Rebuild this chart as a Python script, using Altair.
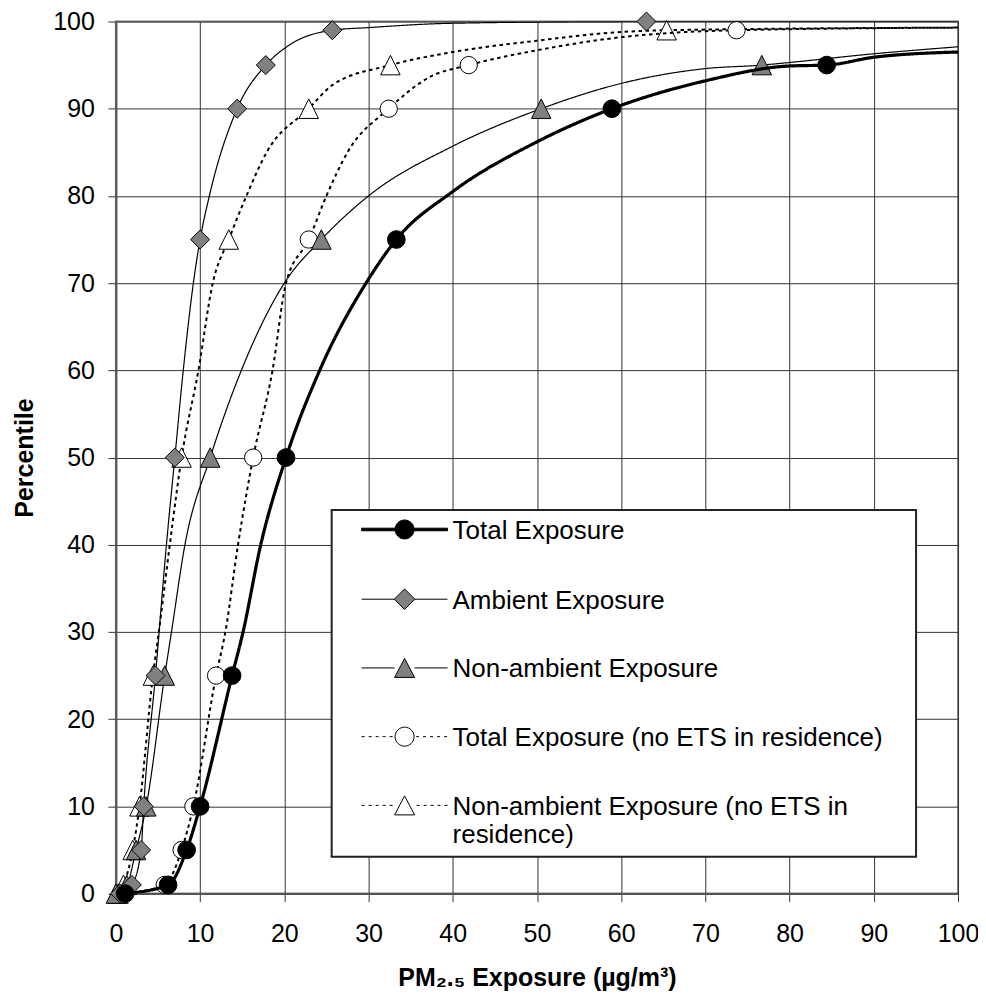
import altair as alt
import pandas as pd

FONT = "Liberation Sans"

SERIES = [
    "Total Exposure",
    "Ambient Exposure",
    "Non-ambient Exposure",
    "Total Exposure (no ETS in residence)",
    "Non-ambient Exposure (no ETS in residence)",
]

x_ticks = [0, 10, 20, 30, 40, 50, 60, 70, 80, 90, 100]
y_ticks = [0, 10, 20, 30, 40, 50, 60, 70, 80, 90, 100]

# ---- marker points (PM2.5 exposure, percentile) ----
total_mx = [1.1, 6.2, 8.4, 10.0, 13.8, 20.2, 33.3, 58.9, 84.4]
total_mp = [0, 1, 5, 10, 25, 50, 75, 90, 95]
amb_mx = [0.5, 1.9, 3.0, 3.3, 4.7, 7.0, 10.0, 14.4, 17.8, 25.7, 63.0]
amb_mp = [0, 1, 5, 10, 25, 50, 75, 90, 95, 99, 100]
nonamb_mx = [0.0, 1.3, 2.4, 3.6, 5.8, 11.2, 24.4, 50.5, 76.7]
nonamb_mp = [0, 1, 5, 10, 25, 50, 75, 90, 95]
totnoets_mx = [0.9, 5.8, 7.8, 9.2, 11.9, 16.3, 22.9, 32.4, 41.9, 73.7]
totnoets_mp = [0, 1, 5, 10, 25, 50, 75, 90, 95, 99]
nonnoets_mx = [0.3, 0.9, 2.0, 2.8, 4.4, 7.8, 13.4, 22.9, 32.6, 65.4]
nonnoets_mp = [0, 1, 5, 10, 25, 50, 75, 90, 95, 99]

# ---- curve vertices ----
total_cx = [1.1, 6.2, 8.4, 10.0, 13.8, 15.1, 17.2, 20.2, 24.2, 29.7, 33.3, 40.0, 50.0, 58.9, 70.0, 80.0, 84.4, 90.0, 100.0]
total_cp = [0, 1, 5, 10, 25, 30, 40, 50, 60, 70, 75, 80.5, 86.2, 90, 93.2, 94.9, 95, 95.9, 96.5]
amb_cx = [0.5, 1.9, 3.0, 3.3, 4.7, 6.0, 7.0, 8.0, 9.2, 10.0, 11.1, 14.4, 17.8, 20.6, 25.7, 30.0, 40.0, 63.0, 100.0]
amb_cp = [0, 1, 5, 10, 25, 40, 50, 60, 70, 75, 80, 90, 95, 97.3, 99, 99.3, 99.8, 100, 100]
nonamb_cx = [0.0, 1.3, 2.4, 3.6, 5.8, 6.6, 8.2, 11.2, 14.9, 20.0, 24.4, 30.0, 40.0, 50.5, 60.0, 70.0, 76.7, 80.0, 90.0, 100.0]
nonamb_cp = [0, 1, 5, 10, 25, 30, 40, 50, 60, 70, 75, 80, 85.7, 90, 92.9, 94.6, 95, 95.3, 96.3, 97.1]
totnoets_cx = [0.9, 5.8, 7.8, 9.2, 11.9, 13.0, 14.5, 16.3, 18.6, 20.2, 22.9, 25.0, 27.5, 32.4, 37.2, 41.9, 50.0, 60.0, 73.7, 100.0]
totnoets_cp = [0, 1, 5, 10, 25, 30, 40, 50, 60, 70, 75, 80, 85, 90, 93.6, 95, 96.7, 98.2, 99, 99.3]
nonnoets_cx = [0.3, 0.9, 2.0, 2.8, 4.4, 5.1, 6.4, 7.8, 9.8, 11.5, 13.4, 15.5, 17.9, 22.9, 25.7, 32.6, 40.0, 50.0, 60.0, 65.4, 100.0]
nonnoets_cp = [0, 1, 5, 10, 25, 30, 40, 50, 60, 70, 75, 80, 85, 90, 92.7, 95, 96.5, 97.8, 98.8, 99, 99.3]

markers = {
    SERIES[0]: (total_mx, total_mp),
    SERIES[1]: (amb_mx, amb_mp),
    SERIES[2]: (nonamb_mx, nonamb_mp),
    SERIES[3]: (totnoets_mx, totnoets_mp),
    SERIES[4]: (nonnoets_mx, nonnoets_mp),
}
curves = {
    SERIES[0]: (total_cx, total_cp),
    SERIES[1]: (amb_cx, amb_cp),
    SERIES[2]: (nonamb_cx, nonamb_cp),
    SERIES[3]: (totnoets_cx, totnoets_cp),
    SERIES[4]: (nonnoets_cx, nonnoets_cp),
}

TRI = "M0,-1L1,1L-1,1Z"
STYLE = {
    SERIES[0]: dict(width=3.2, dash=[1, 0], shape="circle", fill="black", size=314),
    SERIES[1]: dict(width=1.2, dash=[1, 0], shape="diamond", fill="#808080", size=361),
    SERIES[2]: dict(width=1.2, dash=[1, 0], shape=TRI, fill="#808080", size=380),
    SERIES[3]: dict(width=2.0, dash=[3.5, 3.5], shape="circle", fill="white", size=300),
    SERIES[4]: dict(width=2.0, dash=[3.5, 3.5], shape=TRI, fill="white", size=380),
}

# ---- legend symbol paths (symbolSize 4 -> one path unit = one pixel) ----
DY = -1.5
HL = 43
R = 9.5


def seg(x0, x1):
    return f"M{x0:.2f},{DY:.2f}L{x1:.2f},{DY:.2f}"


def thick(x0, x1, h=1.3):
    return (f"M{x0:.2f},{DY - h:.2f}L{x1:.2f},{DY - h:.2f}"
            f"L{x1:.2f},{DY + h:.2f}L{x0:.2f},{DY + h:.2f}Z")


def dashes(x0, x1, d=3.0, period=7.0):
    out, x = [], x0
    while x < x1 - 1e-6:
        out.append(seg(x, min(x + d, x1)))
        x += period
    return "".join(out)


circ = f"M{-R},{DY}A{R},{R} 0 1,1 {R},{DY}A{R},{R} 0 1,1 {-R},{DY}Z"
diam = f"M0,{DY - 10.3:.2f}L10.3,{DY:.2f}L0,{DY + 10.3:.2f}L-10.3,{DY:.2f}Z"
tri = f"M0,{DY - 9.5:.2f}L10,{DY + 9.5:.2f}L-10,{DY + 9.5:.2f}Z"

legend_paths = [
    thick(-HL, -R) + thick(R, HL) + circ,
    seg(-HL, -10.3) + seg(10.3, HL) + diam,
    seg(-HL, -10) + seg(10, HL) + tri,
    dashes(-HL, -R) + dashes(R + 2, HL) + circ,
    dashes(-HL, -10) + dashes(12, HL) + tri,
]
legend_fills = ["black", "#808080", "#808080", "white", "white"]
legend_strokes = ["black", "black", "black", "black", "black"]

xaxis = alt.Axis(values=x_ticks, title="PM₂.₅ Exposure (µg/m³)", grid=True,
                 gridColor="#333333", gridWidth=1, domainColor="#555555", domainWidth=2,
                 tickColor="#333333", tickSize=8, tickWidth=1,
                 labelFont=FONT, labelFontSize=25, labelColor="black", labelPadding=20,
                 labelFlush=False, titleFont=FONT, titleFontSize=25, titleFontWeight="bold",
                 titleColor="black", titlePadding=19)
yaxis = alt.Axis(values=y_ticks, title="Percentile", grid=True,
                 gridColor="#333333", gridWidth=1, domainColor="#555555", domainWidth=2,
                 tickColor="#333333", tickSize=8, tickWidth=1,
                 labelFont=FONT, labelFontSize=25, labelColor="black", labelPadding=13.5,
                 labelFlush=False, titleFont=FONT, titleFontSize=25, titleFontWeight="bold",
                 titleColor="black", titlePadding=15)

X = alt.X("x:Q", scale=alt.Scale(domain=[0, 100], nice=False), axis=xaxis)
Y = alt.Y("p:Q", scale=alt.Scale(domain=[0, 100], nice=False), axis=yaxis)

layers = []
for name in reversed(SERIES):
    st = STYLE[name]
    cx, cp = curves[name]
    cdf = pd.DataFrame({"x": cx, "p": cp, "series": name})
    mx, mp = markers[name]
    mdf = pd.DataFrame({"x": mx, "p": mp, "series": name})
    line = alt.Chart(cdf).mark_line(
        color="black", strokeWidth=st["width"], strokeDash=st["dash"],
        interpolate="monotone", clip=True
    ).encode(x=X, y=Y)
    pts = alt.Chart(mdf).mark_point(
        shape=st["shape"], filled=True, fill=st["fill"], stroke="black",
        strokeWidth=1, size=st["size"], opacity=1
    ).encode(x=X, y=Y)
    layers += [line, pts]

legend = alt.Legend(
    title=" ", titleOrient="right", titleFontSize=1, titleColor="white", titlePadding=25,
    orient="none", legendX=216, legendY=489, padding=8, rowPadding=42.8,
    labelFont=FONT, labelFontSize=26, labelColor="black", labelLimit=1000,
    labelOffset=35, labelBaseline="middle", symbolOffset=52,
    labelExpr=("datum.label == 'Non-ambient Exposure (no ETS in residence)' ? "
               "['Non-ambient Exposure (no ETS in', 'residence)'] : datum.label"),
    symbolSize=4, symbolStrokeColor="black", symbolStrokeWidth=1, symbolOpacity=1,
    strokeColor="#222222", fillColor="white",
)
all_m = pd.concat([pd.DataFrame({"x": markers[n][0], "p": markers[n][1], "series": n})
                   for n in SERIES])
leg_layer = alt.Chart(all_m).transform_filter("false").mark_point(
    filled=True, stroke="black", strokeWidth=1, opacity=1, size=4
).encode(
    x=X, y=Y,
    shape=alt.Shape("series:N", scale=alt.Scale(domain=SERIES, range=legend_paths), legend=legend),
    fill=alt.Fill("series:N", scale=alt.Scale(domain=SERIES, range=legend_fills), legend=legend),
    stroke=alt.Stroke("series:N", scale=alt.Scale(domain=SERIES, range=legend_strokes), legend=legend),
)
layers.append(leg_layer)

chart = alt.layer(*layers).properties(
    width=843, height=873,
    autosize=alt.AutoSizeParams(type="none"),
    padding={"left": 108, "top": 13, "right": 20, "bottom": 100},
).configure(font=FONT).configure_view(
    stroke="#808080", strokeWidth=2
).configure_legend(strokeWidth=2)

chart.save("out.html", embed_options={"renderer": "svg", "actions": False})
